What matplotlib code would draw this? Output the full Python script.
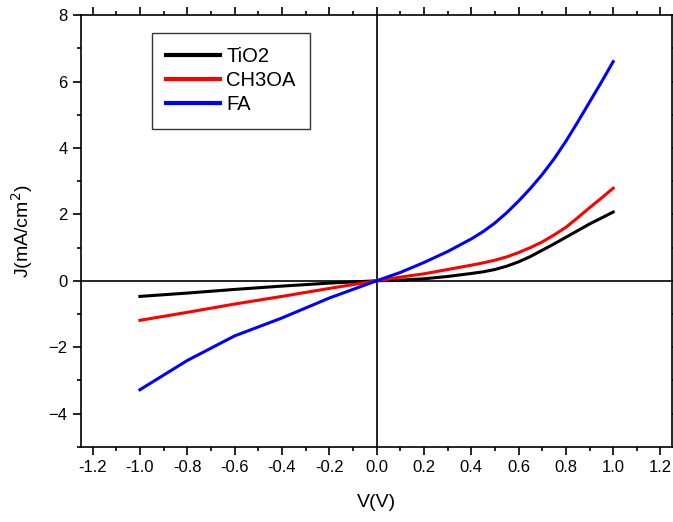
import numpy as np
import matplotlib
matplotlib.use("Agg")
import matplotlib.pyplot as plt
from matplotlib.ticker import MultipleLocator

plt.rcParams['font.family'] = ['Liberation Sans', 'DejaVu Sans']

# voltage points (V) and current density (mA/cm2)
v = [-1.0, -0.8, -0.6, -0.4, -0.2, 0.0, 0.1, 0.2, 0.3, 0.4, 0.45, 0.5, 0.55, 0.6,
     0.65, 0.7, 0.75, 0.8, 0.85, 0.9, 0.95, 1.0]
j_tio2 = [-0.47, -0.37, -0.26, -0.16, -0.07, 0.0, 0.02, 0.06, 0.13, 0.22, 0.27, 0.34, 0.44, 0.57,
          0.73, 0.92, 1.11, 1.31, 1.51, 1.71, 1.89, 2.07]
j_ch3oa = [-1.19, -0.95, -0.70, -0.47, -0.23, 0.0, 0.11, 0.21, 0.34, 0.47, 0.54, 0.62, 0.72, 0.85,
           1.00, 1.17, 1.38, 1.61, 1.90, 2.20, 2.49, 2.79]
j_fa = [-3.28, -2.40, -1.66, -1.12, -0.52, 0.0, 0.25, 0.55, 0.88, 1.26, 1.48, 1.74, 2.05, 2.40,
        2.78, 3.20, 3.67, 4.20, 4.78, 5.38, 5.98, 6.60]

series = [("TiO2", j_tio2, "black"), ("CH3OA", j_ch3oa, "red"), ("FA", j_fa, "blue")]
xticks = [-1.2, -1.0, -0.8, -0.6, -0.4, -0.2, 0.0, 0.2, 0.4, 0.6, 0.8, 1.0, 1.2]
yticks = [-4, -2, 0, 2, 4, 6, 8]

fig = plt.figure(figsize=(6.73, 5.22), dpi=100)
ax = fig.add_axes([0.120, 0.144, 0.879, 0.827])

for name, j, c in series:
    ax.plot(v, j, color=c, lw=2.2, label=name)

ax.axhline(0, color="black", lw=1.2, zorder=0)
ax.axvline(0, color="black", lw=1.2, zorder=0)

ax.set_xlim(-1.25, 1.25)
ax.set_ylim(-5, 8)
ax.set_xticks(xticks)
ax.set_xticklabels(["%.1f" % t for t in xticks])
ax.set_yticks(yticks)
ax.xaxis.set_minor_locator(MultipleLocator(0.1))
ax.yaxis.set_minor_locator(MultipleLocator(1))

ax.tick_params(which="major", direction="out", length=6, width=1.2, labelsize=12,
               top=True, right=True)
ax.tick_params(which="minor", direction="out", length=3, width=1.2, top=True, right=True)
for s in ax.spines.values():
    s.set_linewidth(1.2)

ax.set_xlabel("V(V)", fontsize=14, labelpad=14)
ax.set_ylabel("J(mA/cm$^2$)", fontsize=14, labelpad=10)

leg = ax.legend(loc="upper left", bbox_to_anchor=(0.12, 0.958), fontsize=14.5,
                frameon=True, fancybox=False, edgecolor="black", handlelength=2.7,
                borderpad=0.7, labelspacing=0.25, handletextpad=0.3, borderaxespad=0)
leg.get_frame().set_linewidth(1.0)
for h in leg.get_lines():
    h.set_linewidth(3)

fig.savefig("out.png", dpi=100)
